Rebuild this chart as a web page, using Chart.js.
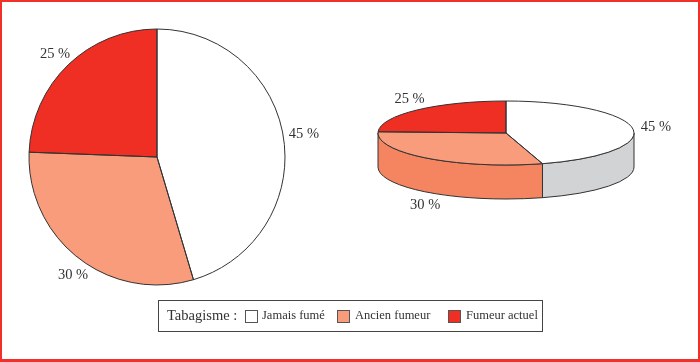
<!DOCTYPE html>
<html lang="fr">
<head>
<meta charset="utf-8">
<title>Tabagisme</title>
<script src="https://cdn.jsdelivr.net/npm/chart.js@4"></script>
<style>
    html, body { margin: 0; padding: 0; background: #fff; }
    #page { position: relative; width: 700px; height: 362px; overflow: hidden; font-family: "Liberation Serif", serif; color: #333; }
    #cadre { position: absolute; left: 0; top: 0; width: 700px; height: 362px; box-sizing: border-box; border: 2px solid #f1302a; border-bottom-width: 3px; pointer-events: none; }
    canvas { position: absolute; }
    #camembert { left: -20px; top: 0; }
    #camembert3d { left: 336px; top: -12px; }
    #legende { position: absolute; left: 158px; top: 300px; width: 385px; height: 32px; box-sizing: border-box; border: 1px solid #444; }
    #legende span { position: absolute; white-space: nowrap; }
    #legende .titre { left: 8px; top: 6px; font-size: 14.5px; }
    #legende .texte { top: 7px; font-size: 12.5px; }
    #legende .case { top: 9px; width: 13px; height: 13px; box-sizing: border-box; border: 1px solid #555; }
</style>
</head>
<body>
<div id="page">
    <canvas id="camembert" width="354" height="314"></canvas>
    <canvas id="camembert3d" width="340" height="290"></canvas>
    <div id="legende"></div>
    <div id="cadre"></div>
</div>
<script>
const titreLegende = 'Tabagisme :';
const categories = ['Jamais fumé', 'Ancien fumeur', 'Fumeur actuel'];
// Parts mesurées sur le dessin (les étiquettes sont arrondies)
const valeurs = [45.4, 30.2, 24.4];
const etiquettes = ['45 %', '30 %', '25 %'];
const couleurs = ['#ffffff', '#f89c7c', '#ef2e24'];
const couleursCote = ['#d1d3d4', '#f58560', '#c9261e'];

// Décalage de chaque étiquette par rapport à son angle
const decalages2d = [[0, -1], [7, 1], [1, 4]];
const decalages3d = [[8, 1], [7, 3], [3, -2]];

// Dessine le côté, écrase le disque, puis ajoute contours et étiquettes
function pluginCamembert(ecrasement, epaisseur, facteurX, facteurY, decalages) {
    return {
        id: 'camembert',
        beforeDatasetsDraw(chart) {
            const ctx = chart.ctx;
            const arcs = chart.getDatasetMeta(0).data;
            const cx = arcs[0].x, cy = arcs[0].y, r = arcs[0].outerRadius;
            const ry = r * ecrasement;

            // Côté visible : seulement la moitié avant du disque
            if (epaisseur > 0) {
                arcs.forEach((arc, i) => {
                    const debut = Math.max(arc.startAngle, 0);
                    const fin = Math.min(arc.endAngle, Math.PI);
                    if (fin <= debut) return;
                    ctx.beginPath();
                    ctx.ellipse(cx, cy, r, ry, 0, debut, fin);
                    ctx.ellipse(cx, cy + epaisseur, r, ry, 0, fin, debut, true);
                    ctx.closePath();
                    ctx.fillStyle = couleursCote[i];
                    ctx.fill();
                    ctx.strokeStyle = '#333';
                    ctx.lineWidth = 1;
                    ctx.stroke();
                });
            }

            ctx.save();
            ctx.translate(cx, cy);
            ctx.scale(1, ecrasement);
            ctx.translate(-cx, -cy);
        },
        afterDatasetsDraw(chart) {
            const ctx = chart.ctx;
            ctx.restore();

            const arcs = chart.getDatasetMeta(0).data;
            const cx = arcs[0].x, cy = arcs[0].y, r = arcs[0].outerRadius;
            const ry = r * ecrasement;

            arcs.forEach(arc => {
                ctx.beginPath();
                ctx.moveTo(cx, cy);
                ctx.ellipse(cx, cy, r, ry, 0, arc.startAngle, arc.endAngle);
                ctx.closePath();
                ctx.strokeStyle = '#333';
                ctx.lineWidth = 1;
                ctx.stroke();
            });

            ctx.font = '14.5px "Liberation Serif", serif';
            ctx.fillStyle = '#333';
            ctx.textAlign = 'center';
            ctx.textBaseline = 'middle';
            arcs.forEach((arc, i) => {
                const milieu = (arc.startAngle + arc.endAngle) / 2;
                const dy = Math.sin(milieu);
                const x = cx + Math.cos(milieu) * r * facteurX + decalages[i][0];
                const y = cy + dy * r * facteurY + (dy > 0.2 ? epaisseur : 0) + decalages[i][1];
                ctx.fillText(etiquettes[i], x, y);
            });
        }
    };
}

function creerCamembert(id, plugin, rayon) {
    return new Chart(document.getElementById(id), {
        type: 'pie',
        data: {
            labels: categories,
            datasets: [{
                data: valeurs,
                backgroundColor: couleurs,
                borderWidth: 0
            }]
        },
        options: {
            responsive: false,
            animation: false,
            radius: rayon,
            plugins: {
                legend: { display: false },
                tooltip: { enabled: false }
            }
        },
        plugins: [plugin]
    });
}

creerCamembert('camembert', pluginCamembert(1, 0, 1.16, 1.16, decalages2d), 128);
creerCamembert('camembert3d', pluginCamembert(0.25, 34, 1.12, 0.35, decalages3d), 128);

// Légende
const legende = document.getElementById('legende');
const positionsCases = [86, 178, 289];
const positionsTextes = [103, 196, 307];

const titre = document.createElement('span');
titre.className = 'titre';
titre.textContent = titreLegende;
legende.appendChild(titre);

categories.forEach((categorie, i) => {
    const carre = document.createElement('span');
    carre.className = 'case';
    carre.style.left = positionsCases[i] + 'px';
    carre.style.background = couleurs[i];
    legende.appendChild(carre);

    const texte = document.createElement('span');
    texte.className = 'texte';
    texte.style.left = positionsTextes[i] + 'px';
    texte.textContent = categorie;
    legende.appendChild(texte);
});
</script>
</body>
</html>
